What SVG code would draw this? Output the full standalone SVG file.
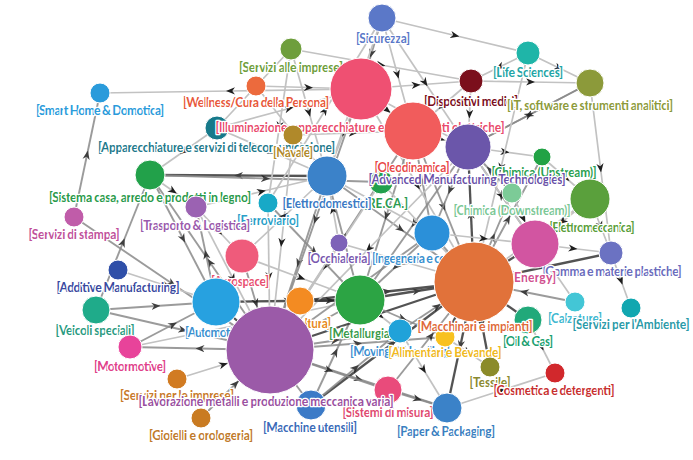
<svg xmlns="http://www.w3.org/2000/svg" width="693" height="460" viewBox="0 0 693 460">
<defs>
<marker id="ar" viewBox="0 0 10 10" refX="5" refY="5" markerWidth="9" markerHeight="9" markerUnits="userSpaceOnUse" orient="auto"><path d="M0 1 L10 5 L0 9 L3 5Z" fill="#1e1e1e"/></marker>
<style>
.c path{fill:none;marker-mid:url(#ar)}
.e{stroke:#c2c2c2;stroke-width:1.7}
.d{stroke:#8a8a8a;stroke-width:1.9;opacity:.85}
.k{stroke:#363636;stroke-width:2.3;opacity:.85}
circle{stroke:#fff;stroke-width:1}
text{font-family:Lato,"Source Sans Pro","Noto Sans",sans-serif;font-weight:700;font-size:12.3px;text-anchor:middle;stroke:#fff;stroke-width:2.6;stroke-linejoin:round;paint-order:stroke}
</style>
</defs>
<rect width="693" height="460" fill="#fff"/>
<g id="connectors" class="c">
<path class="e" d="M361 89 L230.5 91 L100 93"/>
<path class="d" d="M74 217 L87 155 L100 93"/>
<path class="d" d="M74 217 L172 283.5 L270 350"/>
<path class="d" d="M96 310 L123 242.5 L150 175"/>
<path class="e" d="M118 270 L167 286 L216 302"/>
<path class="d" d="M96 310 L156 306 L216 302"/>
<path class="d" d="M96 310 L183 330 L270 350"/>
<path class="d" d="M130 347 L173 324.5 L216 302"/>
<path class="d" d="M270 350 L200 348.5 L130 347"/>
<path class="e" d="M130 347 L245 323.5 L360 300"/>
<path class="e" d="M177 379 L223.5 364.5 L270 350"/>
<path class="d" d="M201 418 L235.5 384 L270 350"/>
<path class="k" d="M327 176 L238.5 175.5 L150 175"/>
<path class="d" d="M150 175 L265.5 178.5 L381 182"/>
<path class="d" d="M270 350 L210 262.5 L150 175"/>
<path class="d" d="M216 302 L206 254.5 L196 207"/>
<path class="e" d="M382 18 L455 35.5 L528 53"/>
<path class="d" d="M382 18 L371.5 53.5 L361 89"/>
<path class="e" d="M361 89 L416 85 L471 81"/>
<path class="e" d="M382 18 L425 82.5 L468 147"/>
<path class="e" d="M528 53 L499.5 67 L471 81"/>
<path class="e" d="M528 53 L559 68 L590 83"/>
<path class="e" d="M471 81 L530.5 82 L590 83"/>
<path class="d" d="M590 83 L529 115 L468 147"/>
<path class="d" d="M468 147 L529 115 L590 83"/>
<path class="e" d="M590 83 L600.5 168 L611 253"/>
<path class="e" d="M611 253 L621 280.5 L631 308"/>
<path class="k" d="M611 253 L542.5 267.5 L474 282"/>
<path class="k" d="M474 282 L460.5 345 L447 408"/>
<path class="d" d="M270 350 L358.5 379 L447 408"/>
<path class="d" d="M388 390 L417.5 399 L447 408"/>
<path class="e" d="M400 331 L423.5 369.5 L447 408"/>
<path class="d" d="M311 405 L335.5 352.5 L360 300"/>
<path class="k" d="M311 405 L392.5 343.5 L474 282"/>
<path class="d" d="M270 350 L357.5 343.5 L445 337"/>
<path class="d" d="M270 350 L290.5 377.5 L311 405"/>
<path class="e" d="M447 408 L501 390.5 L555 373"/>
<path class="e" d="M528 320 L541.5 346.5 L555 373"/>
<path class="k" d="M474 282 L501 301 L528 320"/>
<path class="e" d="M291 49 L309 112.5 L327 176"/>
<path class="e" d="M291 49 L279.5 126 L268 203"/>
<path class="e" d="M217 128 L289 108.5 L361 89"/>
<path class="e" d="M268 203 L325 110.5 L382 18"/>
<path class="e" d="M471 81 L469.5 114 L468 147"/>
<path class="e" d="M468 147 L505 152 L542 157"/>
<path class="e" d="M528 53 L501 167.5 L474 282"/>
<path class="k" d="M474 282 L471 214.5 L468 147"/>
<path class="d" d="M474 282 L508 219.5 L542 157"/>
<path class="d" d="M474 282 L493 237.5 L512 193"/>
<path class="d" d="M432 233 L422.5 182 L413 131"/>
<path class="d" d="M413 131 L443.5 206.5 L474 282"/>
<path class="e" d="M590 199 L532 240.5 L474 282"/>
<path class="e" d="M542 157 L566 178 L590 199"/>
<path class="e" d="M535 244 L573 248.5 L611 253"/>
<path class="e" d="M590 199 L600.5 226 L611 253"/>
<path class="d" d="M575 302 L524.5 292 L474 282"/>
<path class="k" d="M474 282 L482 324.5 L490 367"/>
<path class="e" d="M445 337 L467.5 352 L490 367"/>
<path class="k" d="M360 300 L417 291 L474 282"/>
<path class="k" d="M270 350 L372 316 L474 282"/>
<path class="k" d="M300 301 L387 291.5 L474 282"/>
<path class="d" d="M270 350 L315 325 L360 300"/>
<path class="k" d="M216 302 L288 301 L360 300"/>
<path class="d" d="M150 175 L183 238.5 L216 302"/>
<path class="e" d="M150 175 L173 191 L196 207"/>
<path class="e" d="M196 207 L219 231.5 L242 256"/>
<path class="d" d="M242 256 L256 303 L270 350"/>
<path class="k" d="M216 302 L243 326 L270 350"/>
<path class="d" d="M327 176 L298.5 263 L270 350"/>
<path class="d" d="M327 176 L400.5 229 L474 282"/>
<path class="e" d="M361 89 L344 132.5 L327 176"/>
<path class="e" d="M361 89 L387 110 L413 131"/>
<path class="e" d="M361 89 L417.5 185.5 L474 282"/>
<path class="d" d="M361 89 L315.5 219.5 L270 350"/>
<path class="d" d="M413 131 L341.5 240.5 L270 350"/>
<path class="d" d="M413 131 L386.5 215.5 L360 300"/>
<path class="d" d="M468 147 L414 223.5 L360 300"/>
<path class="e" d="M468 147 L369 248.5 L270 350"/>
<path class="d" d="M468 147 L450 190 L432 233"/>
<path class="e" d="M381 182 L427.5 232 L474 282"/>
<path class="e" d="M381 182 L325.5 266 L270 350"/>
<path class="d" d="M268 203 L314 251.5 L360 300"/>
<path class="e" d="M268 203 L269 276.5 L270 350"/>
<path class="e" d="M339 243 L406.5 262.5 L474 282"/>
<path class="e" d="M339 243 L304.5 296.5 L270 350"/>
<path class="d" d="M432 233 L351 291.5 L270 350"/>
<path class="d" d="M432 233 L396 266.5 L360 300"/>
<path class="k" d="M535 244 L504.5 263 L474 282"/>
<path class="d" d="M535 244 L501.5 195.5 L468 147"/>
<path class="e" d="M512 193 L523.5 218.5 L535 244"/>
<path class="d" d="M400 331 L437 306.5 L474 282"/>
<path class="k" d="M445 337 L459.5 309.5 L474 282"/>
<path class="d" d="M270 350 L335 340.5 L400 331"/>
<path class="d" d="M270 350 L329 370 L388 390"/>
<path class="d" d="M388 390 L431 336 L474 282"/>
<path class="e" d="M360 300 L380 315.5 L400 331"/>
<path class="d" d="M300 301 L285 325.5 L270 350"/>
<path class="k" d="M300 301 L330 300.5 L360 300"/>
<path class="e" d="M293 135 L353 133 L413 131"/>
<path class="e" d="M293 135 L281.5 242.5 L270 350"/>
<path class="e" d="M217 128 L183.5 151.5 L150 175"/>
<path class="e" d="M217 128 L272 152 L327 176"/>
<path class="e" d="M256 86 L308.5 87.5 L361 89"/>
<path class="e" d="M256 86 L291.5 131 L327 176"/>
<path class="e" d="M291 49 L381 65 L471 81"/>
<path class="e" d="M291 49 L254 88.5 L217 128"/>
<path class="e" d="M382 18 L354.5 97 L327 176"/>
<path class="e" d="M382 18 L397.5 74.5 L413 131"/>
<path class="e" d="M471 81 L442 106 L413 131"/>
<path class="e" d="M468 147 L501.5 195.5 L535 244"/>
<path class="d" d="M512 193 L490 170 L468 147"/>
<path class="e" d="M432 233 L483.5 238.5 L535 244"/>
<path class="e" d="M590 199 L562.5 221.5 L535 244"/>
<path class="e" d="M242 256 L301 278 L360 300"/>
<path class="e" d="M242 256 L284.5 216 L327 176"/>
<path class="e" d="M339 243 L333 209.5 L327 176"/>
<path class="e" d="M196 207 L261.5 191.5 L327 176"/>
<path class="e" d="M196 207 L233 278.5 L270 350"/>
<path class="d" d="M311 405 L355.5 368 L400 331"/>
<path class="d" d="M327 176 L343.5 238 L360 300"/>
<path class="e" d="M327 176 L379.5 204.5 L432 233"/>
<path class="e" d="M413 131 L440.5 139 L468 147"/>
<path class="e" d="M361 89 L414.5 118 L468 147"/>
<path class="e" d="M575 302 L555 273 L535 244"/>
<path class="d" d="M360 300 L402.5 318.5 L445 337"/>
<path class="d" d="M432 233 L453 257.5 L474 282"/>
</g>
<g id="n-sma"><circle cx="100" cy="93" r="10" fill="#2a9bdb"/><text x="100" y="115" textLength="128" fill="#2a9bdb">[Smart Home &amp; Domotica]</text></g>
<g id="n-sai"><circle cx="291" cy="49" r="11" fill="#6e9e3c"/><text x="291" y="72" textLength="104" fill="#6e9e3c">[Servizi alle imprese]</text></g>
<g id="n-wel"><circle cx="256" cy="86" r="10" fill="#ec6a3d"/><text x="256" y="107" textLength="146" fill="#e8583a">[Wellness/Cura della Persona]</text></g>
<g id="n-sic"><circle cx="382" cy="18" r="14" fill="#5b78c8"/><text x="383" y="43" textLength="54" fill="#5b78c8">[Sicurezza]</text></g>
<g id="n-lif"><circle cx="528" cy="53" r="12" fill="#1fb5a8"/><text x="528" y="77" textLength="70" fill="#1fa5a6">[Life Sciences]</text></g>
<g id="n-dis"><circle cx="471" cy="81" r="12" fill="#7b0f1c"/><text x="471" y="106" textLength="94" fill="#7b0f1c">[Dispositivi medici]</text></g>
<g id="n-it"><circle cx="590" cy="83" r="14" fill="#8c9a3a"/><text x="590" y="110" textLength="166" fill="#8c9a3a">[IT, software e strumenti analitici]</text></g>
<g id="n-tel"><circle cx="217" cy="128" r="12" fill="#16798a"/><text x="216.5" y="152" textLength="237" fill="#1f7a8c">[Apparecchiature e servizi di telecomunicazione]</text></g>
<g id="n-ill"><circle cx="361" cy="89" r="31" fill="#ef5072"/><text x="360" y="132" textLength="289" fill="#e94b6d">[Illuminazione, apparecchiature e componenti elettriche]</text></g>
<g id="n-nav"><circle cx="293" cy="135" r="10" fill="#b0892a"/><text x="293" y="157" textLength="40" fill="#b0892a">[Navale]</text></g>
<g id="n-chu"><circle cx="542" cy="157" r="9" fill="#22a245"/><text x="544" y="177" textLength="105" fill="#2aa050">[Chimica (Upstream)]</text></g>
<g id="n-rec"><circle cx="381" cy="182" r="12" fill="#22a04d"/><text x="386" y="208" textLength="44" fill="#2a9a50">[RE.CA.]</text></g>
<g id="n-ele"><circle cx="327" cy="176" r="20" fill="#3b82c9"/><text x="327" y="208" textLength="89" fill="#3b7ac4">[Elettrodomestici]</text></g>
<g id="n-ole"><circle cx="413" cy="131" r="29" fill="#f15c5c"/><text x="412" y="172" textLength="75" fill="#e84848">[Oleodinamica]</text></g>
<g id="n-amt"><circle cx="468" cy="147" r="23" fill="#6b56aa"/><text x="467" y="184" textLength="197" fill="#6a52a8">[Advanced Manufacturing Technologies]</text></g>
<g id="n-chd"><circle cx="512" cy="193" r="10" fill="#7ccb97"/><text x="512" y="215" textLength="117" fill="#7cc896">[Chimica (Downstream)]</text></g>
<g id="n-elm"><circle cx="590" cy="199" r="20" fill="#5aa03c"/><text x="592" y="232" textLength="85" fill="#5a9e3a">[Elettromeccanica]</text></g>
<g id="n-gom"><circle cx="611" cy="253" r="12" fill="#6b72c2"/><text x="612" y="276" textLength="139" fill="#6a6cbd">[Gomma e materie plastiche]</text></g>
<g id="n-ene"><circle cx="535" cy="244" r="24" fill="#d255a1"/><text x="533" y="282" textLength="46" fill="#d0508f">[Energy]</text></g>
<g id="n-sis"><circle cx="150" cy="175" r="15" fill="#22a14a"/><text x="150" y="202" textLength="202" fill="#2a9a4a">[Sistema casa, arredo e prodotti in legno]</text></g>
<g id="n-sst"><circle cx="74" cy="217" r="10" fill="#c05ca9"/><text x="74" y="239" textLength="91" fill="#c0509a">[Servizi di stampa]</text></g>
<g id="n-fer"><circle cx="268" cy="203" r="10" fill="#18a9c7"/><text x="268" y="225" textLength="62" fill="#2aa0c8">[Ferroviario]</text></g>
<g id="n-tra"><circle cx="196" cy="207" r="11" fill="#9b62b2"/><text x="195" y="230" textLength="110" fill="#9a5aac">[Trasporto &amp; Logistica]</text></g>
<g id="n-occ"><circle cx="339" cy="243" r="9" fill="#7d62b8"/><text x="339" y="263" textLength="63" fill="#7a5ab0">[Occhialeria]</text></g>
<g id="n-aer"><circle cx="242" cy="256" r="17" fill="#ef5b7b"/><text x="240" y="286" textLength="58" fill="#e85070">[Aerospace]</text></g>
<g id="n-add"><circle cx="118" cy="270" r="10" fill="#2f4fa8"/><text x="118" y="292" textLength="123" fill="#3a4aa0">[Additive Manufacturing]</text></g>
<g id="n-vei"><circle cx="96" cy="310" r="14" fill="#1fab8a"/><text x="95" y="335" textLength="79" fill="#2a9a80">[Veicoli speciali]</text></g>
<g id="n-aut"><circle cx="216" cy="302" r="24" fill="#27a1e0"/><text x="216" y="337" textLength="62" fill="#3a90d0">[Automotive]</text></g>
<g id="n-agr"><circle cx="300" cy="301" r="14" fill="#f38b22"/><text x="300" y="328" textLength="62" fill="#e88a20">[Agricoltura]</text></g>
<g id="n-met"><circle cx="360" cy="300" r="25" fill="#2ca444"/><text x="361" y="338" textLength="64" fill="#3a9a4a">[Metallurgia]</text></g>
<g id="n-ing"><circle cx="432" cy="233" r="18" fill="#2b90d9"/><text x="431" y="263" textLength="118" fill="#3a90d0">[Ingegneria e consulenza]</text></g>
<g id="n-cal"><circle cx="575" cy="302" r="10" fill="#43c6d6"/><text x="575" y="323" textLength="54" fill="#40b8d0">[Calzature]</text></g>
<g id="n-amb"><circle cx="631" cy="308" r="10" fill="#11a7b0"/><text x="631" y="329" textLength="117" fill="#2a9aa8">[Servizi per l'Ambiente]</text></g>
<g id="n-oil"><circle cx="528" cy="320" r="14" fill="#21a97a"/><text x="528" y="346" textLength="50" fill="#20a070">[Oil &amp; Gas]</text></g>
<g id="n-mov"><circle cx="400" cy="331" r="12" fill="#20a2d9"/><text x="400" y="356" textLength="100" fill="#3a8ed0">[Moving &amp; Handling]</text></g>
<g id="n-ali"><circle cx="445" cy="337" r="10" fill="#f8c11f"/><text x="445" y="357" textLength="113" fill="#f0b820">[Alimentari e Bevande]</text></g>
<g id="n-tes"><circle cx="490" cy="367" r="10" fill="#8b8b2a"/><text x="490" y="387" textLength="41" fill="#8a8a30">[Tessile]</text></g>
<g id="n-cos"><circle cx="555" cy="373" r="10" fill="#d1282c"/><text x="554" y="395" textLength="121" fill="#c83030">[Cosmetica e detergenti]</text></g>
<g id="n-mac"><circle cx="474" cy="282" r="40" fill="#e1723a"/><text x="475" y="331" textLength="115" fill="#e06a3a">[Macchinari e impianti]</text></g>
<g id="n-mot"><circle cx="130" cy="347" r="12" fill="#e8439a"/><text x="130" y="371" textLength="72" fill="#e0408a">[Motormotive]</text></g>
<g id="n-spi"><circle cx="177" cy="379" r="10" fill="#d17b22"/><text x="177" y="400" textLength="114" fill="#c87a2a">[Servizi per le imprese]</text></g>
<g id="n-gio"><circle cx="201" cy="418" r="10" fill="#c97b22"/><text x="201" y="440" textLength="104" fill="#c07a2a">[Gioielli e orologeria]</text></g>
<g id="n-mut"><circle cx="311" cy="405" r="15" fill="#3b7ac7"/><text x="310" y="432" textLength="94" fill="#3a6ab8">[Macchine utensili]</text></g>
<g id="n-smi"><circle cx="388" cy="390" r="14" fill="#e94b7b"/><text x="388" y="417" textLength="91" fill="#e04a70">[Sistemi di misura]</text></g>
<g id="n-pap"><circle cx="447" cy="408" r="15" fill="#3b82c8"/><text x="446" y="436" textLength="98" fill="#3a80c0">[Paper &amp; Packaging]</text></g>
<g id="n-lav"><circle cx="270" cy="350" r="44" fill="#9b5aa8"/><text x="266" y="406" textLength="255" fill="#9a50a0">[Lavorazione metalli e produzione meccanica varia]</text></g>
</svg>
